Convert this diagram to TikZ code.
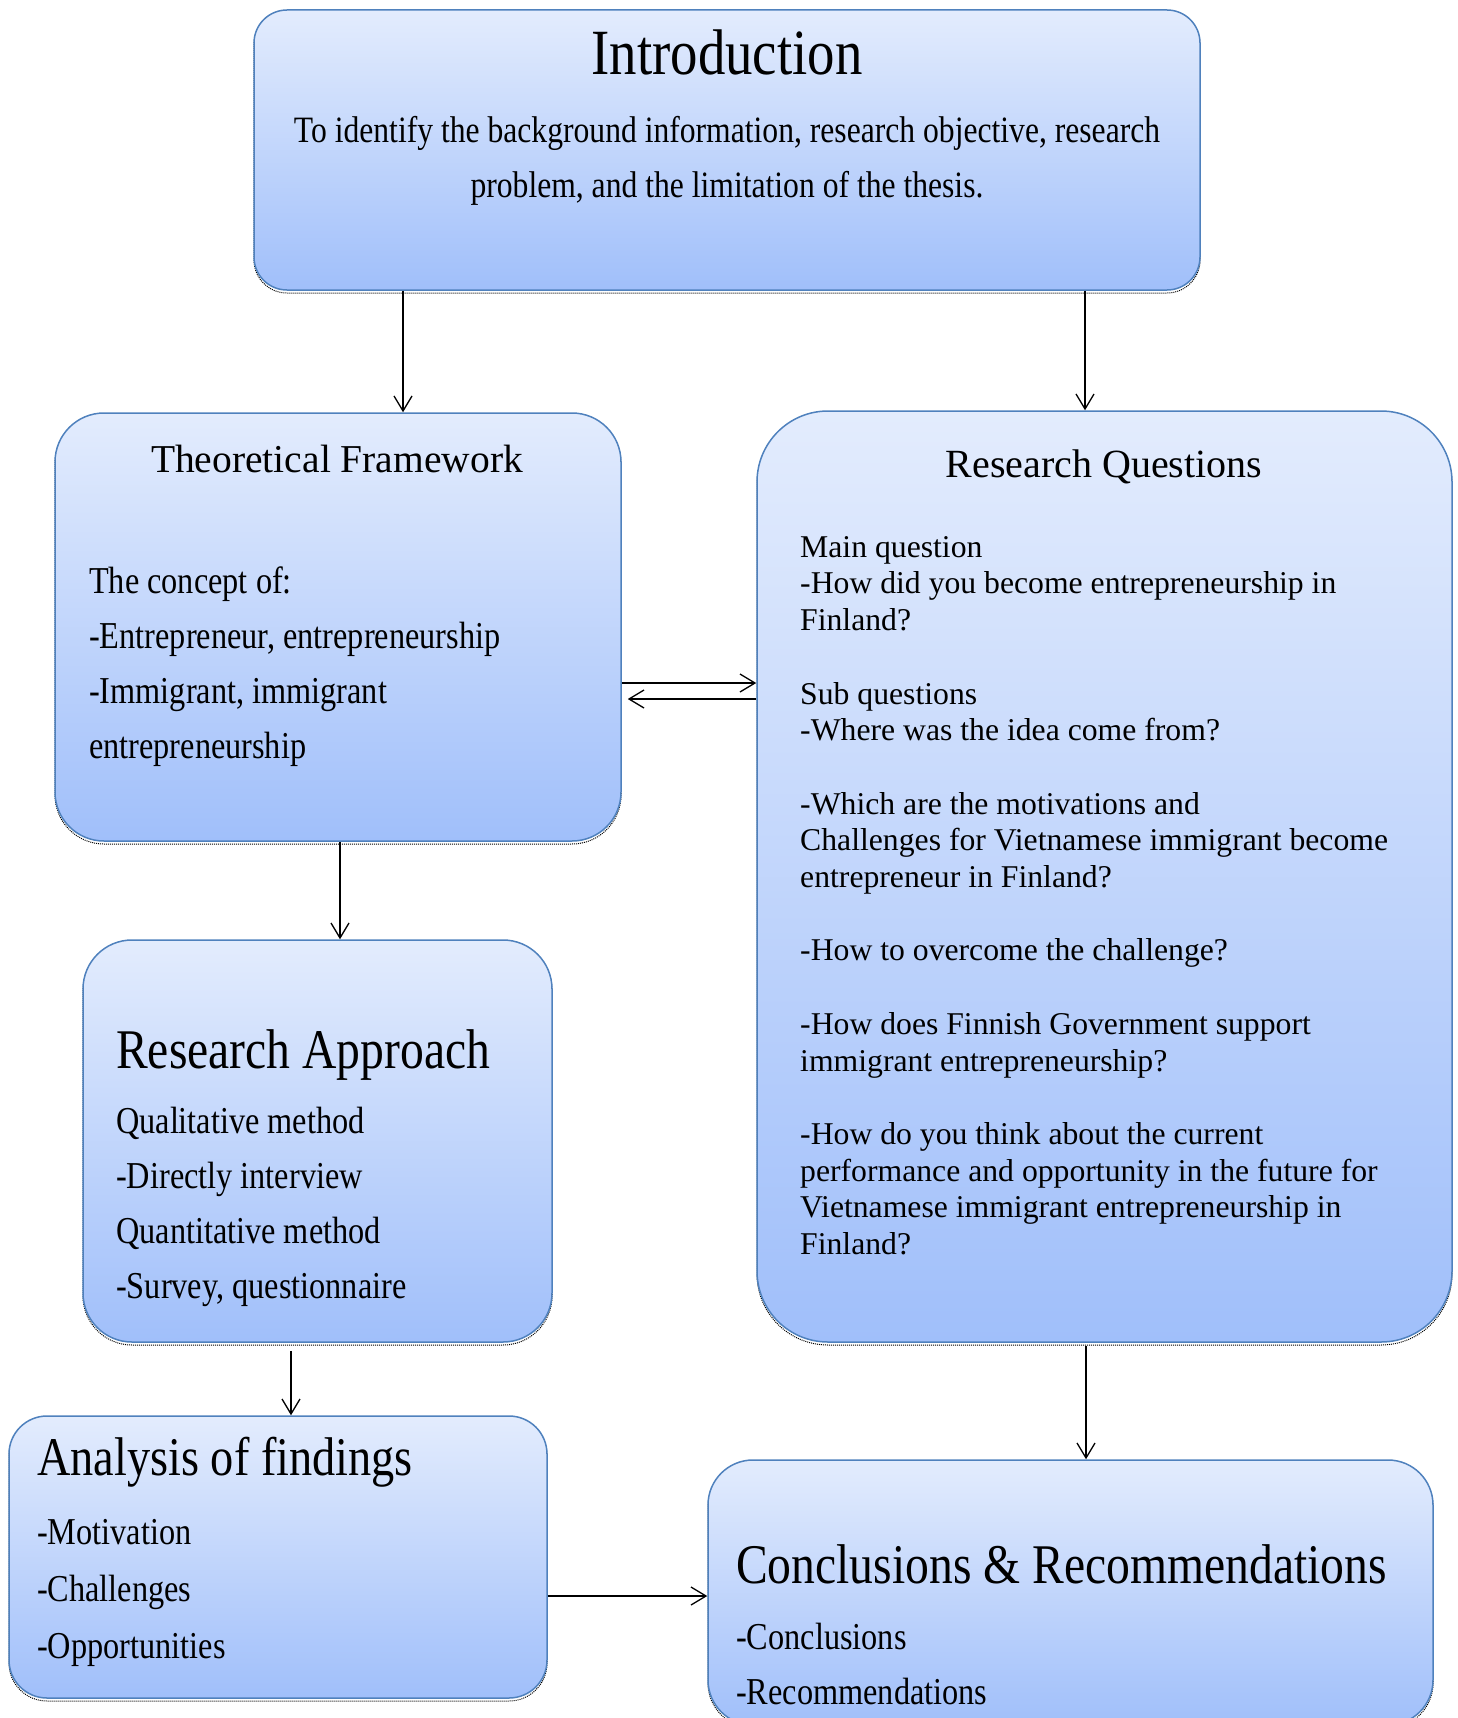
\documentclass[tikz,border=0pt]{standalone}
\usepackage{fontspec}
\setmainfont{Liberation Serif}
\newfontfamily\condf[FakeStretch=0.85]{Liberation Serif}
\usetikzlibrary{arrows.meta}
\definecolor{bordc}{RGB}{79,129,189}
\definecolor{topc}{RGB}{227,236,253}
\definecolor{botc}{RGB}{160,191,250}
\begin{document}
\begin{tikzpicture}[x=1pt,y=-1pt,
  box/.style={rounded corners=#1, draw=bordc, line width=1.5pt, top color=topc, bottom color=botc, inner sep=0pt,
    preaction={draw=black, densely dotted, line width=1pt, transform canvas={yshift=-3pt}}},
  arr/.style={-{Straight Barb[length=15pt,width=18pt]}, line width=1.3pt},
  txt/.style={inner sep=0pt, align=left}
]
\useasboundingbox (0,0) rectangle (1457,1718);
% boxes
\node[box=33, minimum width=946, minimum height=280] (intro) at (727,150) {};
\node[box=49, minimum width=566, minimum height=428] (tf) at (338,627) {};
\node[box=71, minimum width=695, minimum height=931] (rq) at (1104.5,876.5) {};
\node[box=49, minimum width=469, minimum height=402] (ra) at (317.5,1141) {};
\node[box=38, minimum width=538, minimum height=282] (af) at (278,1557) {};
\node[box=45, minimum width=725, minimum height=265] (cr) at (1070.5,1592.5) {};
% texts
\node[txt, anchor=base, font=\condf\fontsize{64.5}{70}\selectfont] (introT) at (727,75) {Introduction};
\node[inner sep=0pt, align=center, anchor=north, font=\condf\fontsize{37.2}{55}\selectfont] (introB) at (727,112)
  {\rule{0pt}{30pt}To identify the background information, research objective, research\\problem, and the limitation of the thesis.};
\node[txt, anchor=base, font=\fontsize{39.5}{45}\selectfont] (tfT) at (337,472) {Theoretical Framework};
\node[txt, anchor=north west, font=\condf\fontsize{38}{55}\selectfont] (tfB) at (89,563)
  {\rule{0pt}{30pt}The concept of:\\-Entrepreneur, entrepreneurship\\-Immigrant, immigrant\\entrepreneurship};
\node[txt, anchor=base, font=\fontsize{40}{45}\selectfont] (rqT) at (1104,477) {Research Questions};
\node[txt, anchor=north west, font=\fontsize{31.7}{36.7}\selectfont] (rqB) at (800,527)
  {\rule{0pt}{30pt}Main question\\-How did you become entrepreneurship in\\Finland?\\[36.7pt]Sub questions\\-Where was the idea come from?\\[36.7pt]-Which are the motivations and\\Challenges for Vietnamese immigrant become\\entrepreneur in Finland?\\[36.7pt]-How to overcome the challenge?\\[36.7pt]-How does Finnish Government support\\immigrant entrepreneurship?\\[36.7pt]-How do you think about the current\\performance and opportunity in the future for\\Vietnamese immigrant entrepreneurship in\\Finland?};
\node[txt, anchor=base west, font=\condf\fontsize{56}{60}\selectfont] (raT) at (116,1068) {Research Approach};
\node[txt, anchor=north west, font=\condf\fontsize{38}{55}\selectfont] (raB) at (116,1103)
  {\rule{0pt}{30pt}Qualitative method\\-Directly interview\\Quantitative method\\-Survey, questionnaire};
\node[txt, anchor=base west, font=\condf\fontsize{54.5}{60}\selectfont] (afT) at (37,1475) {Analysis of findings};
\node[txt, anchor=north west, font=\condf\fontsize{38}{57}\selectfont] (afB) at (37,1514)
  {\rule{0pt}{30pt}-Motivation\\-Challenges\\-Opportunities};
\node[txt, anchor=base west, font=\condf\fontsize{56}{60}\selectfont] (crT) at (736,1583) {Conclusions \& Recommendations};
\node[txt, anchor=north west, font=\condf\fontsize{38}{55}\selectfont] (crB) at (736,1619)
  {\rule{0pt}{30pt}-Conclusions\\-Recommendations};
% connectors
\coordinate (xa) at (403,0);
\coordinate (xb) at (1085,0);
\coordinate (ya) at (0,683);
\coordinate (yb) at (0,699);
\coordinate (xc) at (340,0);
\coordinate (xd) at (291,0);
\coordinate (ye) at (0,1596);
\coordinate (xf) at (1086,0);
\draw[arr] (intro.south -| xa) -- (tf.north -| xa);
\draw[arr] (intro.south -| xb) -- (rq.north -| xb);
\draw[arr] (tf.east |- ya) -- (rq.west |- ya);
\draw[arr, shorten >=6pt] (rq.west |- yb) -- (tf.east |- yb);
\draw[arr] (tf.south -| xc) -- (ra.north -| xc);
\draw[arr, shorten <=8pt] (ra.south -| xd) -- (af.north -| xd);
\draw[arr] (af.east |- ye) -- (cr.west |- ye);
\draw[arr, shorten <=3pt] (rq.south -| xf) -- (cr.north -| xf);
\end{tikzpicture}
\end{document}
